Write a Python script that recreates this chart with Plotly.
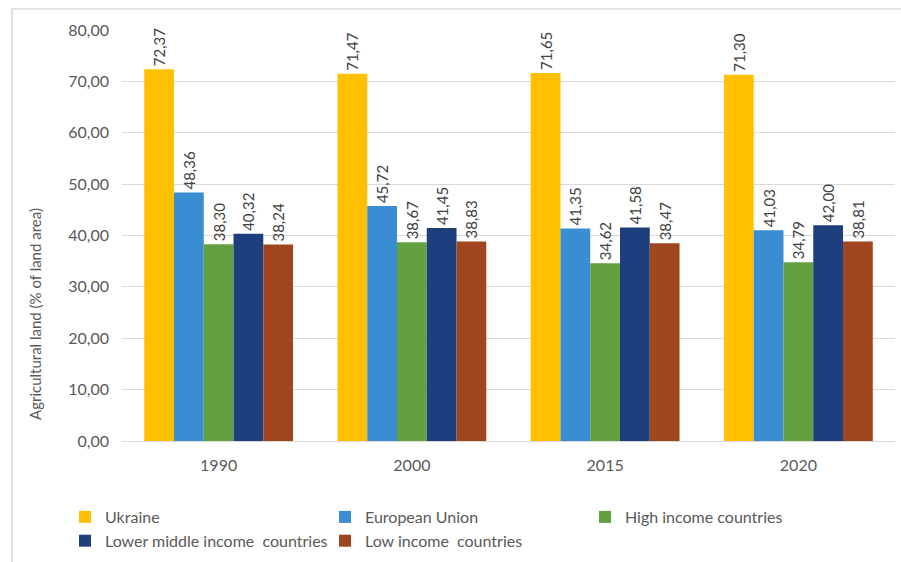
import plotly.graph_objects as go

years = ["1990", "2000", "2015", "2020"]
series_names = ["Ukraine", "European Union", "High income countries",
                "Lower middle income\u00a0 countries", "Low income\u00a0 countries"]
ukraine = [72.37, 71.47, 71.65, 71.30]
european_union = [48.36, 45.72, 41.35, 41.03]
high_income = [38.30, 38.67, 34.62, 34.79]
lower_middle_income = [40.32, 41.45, 41.58, 42.00]
low_income = [38.24, 38.83, 38.47, 38.81]
y_ticks = [0, 10, 20, 30, 40, 50, 60, 70, 80]

values = [ukraine, european_union, high_income, lower_middle_income, low_income]
colors = ["#FFC000", "#3A8DD2", "#63A03F", "#1D3F7D", "#A0461E"]

FONT = "Lato"
W, H = 901, 562
L, R, T, B = 122, 6, 30, 121
pw, ph = W - L - R, H - T - B

fig = go.Figure()
for name, vals, col in zip(series_names, values, colors):
    fig.add_trace(go.Bar(
        x=years, y=vals, name=name,
        marker=dict(color=col, line=dict(width=0)),
        texttemplate="%{y:.2f}", textposition="outside", textangle=-90,
        textfont=dict(family=FONT, size=15, color="#404040"),
        constraintext="none",
        cliponaxis=False,
    ))

def px_x(p):
    return (p - L) / pw

def px_y(p):
    return (H - B - p) / ph

fig.update_layout(
    width=W, height=H,
    margin=dict(l=L, r=R, t=T, b=B, autoexpand=False),
    plot_bgcolor="white", paper_bgcolor="white",
    separators=",.",
    barmode="group", bargap=0.23, bargroupgap=0,
    font=dict(family=FONT, size=16, color="#595959"),
    xaxis=dict(showgrid=False, showline=True, linecolor="#D9D9D9", linewidth=1,
               ticks="", tickfont=dict(family=FONT, size=16, color="#595959"),
               ticklabelstandoff=10),
    yaxis=dict(range=[0, 80], tickvals=y_ticks, tickformat=".2f",
               showgrid=True, gridcolor="#D9D9D9", gridwidth=1,
               zeroline=False, showline=False, ticks="",
               tickfont=dict(family=FONT, size=16, color="#595959"),
               ticklabelstandoff=12),
    legend=dict(orientation="h", x=px_x(65), xanchor="left", y=px_y(500), yanchor="top",
                entrywidth=215, entrywidthmode="pixels",
                font=dict(family=FONT, size=16, color="#595959"),
                itemclick=False, tracegroupgap=0, bgcolor="rgba(0,0,0,0)"),
    showlegend=True,
    annotations=[dict(text="Agricultural land (% of land area)", textangle=-90,
                      xref="paper", yref="paper", x=px_x(35), y=px_y(314),
                      xanchor="center", yanchor="middle", showarrow=False,
                      font=dict(family=FONT, size=15, color="#595959"))],
    shapes=[dict(type="rect", xref="paper", yref="paper",
                 x0=px_x(12), x1=px_x(915), y0=px_y(575), y1=px_y(9),
                 line=dict(color="#D9D9D9", width=1.5), layer="below")],
)

fig.write_html("out.html", config={"displayModeBar": False},
               post_script="document.body.style.margin='0';document.body.style.overflow='hidden';")
